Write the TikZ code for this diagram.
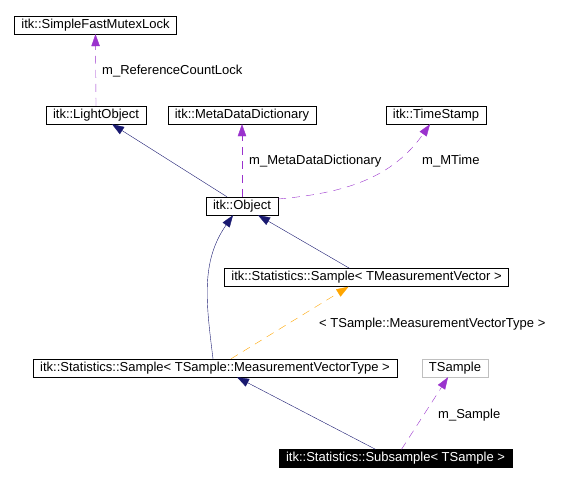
\documentclass[tikz,border=0pt]{standalone}
\usepackage{fontspec}
\setmainfont{Liberation Sans}
\usetikzlibrary{arrows.meta}
\begin{document}
\begin{tikzpicture}[x=1pt,y=-1pt,
  cls/.style={draw,thin,inner xsep=7pt,inner ysep=0pt,minimum height=18pt},
  inherit/.style={mynavy,thin,-{Triangle[length=12pt,width=8.5pt]}},
  member/.style={mypurple,thin,dash pattern=on 8pt off 6pt,-{Triangle[length=12pt,width=8.5pt]}},
  tmpl/.style={myorange,thin,dash pattern=on 8pt off 6pt,-{Triangle[length=12pt,width=8.5pt]}},
  lbl/.style={anchor=west,inner sep=0pt}]

\fontsize{13}{15}\selectfont
\definecolor{mynavy}{rgb}{0.098,0.098,0.439}
\definecolor{mypurple}{rgb}{0.604,0.196,0.804}
\definecolor{myorange}{rgb}{1.0,0.647,0.0}
\definecolor{mygray}{gray}{0.75}

\useasboundingbox (0,0) rectangle (564,483);

% classes
\node[cls] (lock) at (95.5,25) {itk::SimpleFastMutexLock};
\node[cls] (light) at (96,115) {itk::LightObject};
\node[cls] (meta) at (242,115) {itk::MetaDataDictionary};
\node[cls] (stamp) at (436,115) {itk::TimeStamp};
\node[cls] (object) at (242,206) {itk::Object};
\node[cls] (sampleT) at (366.5,277.5) {itk::Statistics::Sample< TMeasurementVector >};
\node[cls] (sampleM) at (215,368) {itk::Statistics::Sample< TSample::MeasurementVectorType >};
\node[cls,draw=mygray] (tsample) at (455,368) {TSample};
\node[cls,fill=black,text=white] (sub) at (395.5,458.5) {itk::Statistics::Subsample< TSample >};

% edge labels
\node[lbl] (lbllock) at (102,71) {m\_ReferenceCountLock};
\node[lbl] (lblmeta) at (249,161) {m\_MetaDataDictionary};
\node[lbl] (lbltime) at (422,161) {m\_MTime};
\node[lbl] (lblvec) at (319,324) {< TSample::MeasurementVectorType >};
\node[lbl] (lblsample) at (438,415) {m\_Sample};

% connectors
\draw[member] (light.north) -- (lock.south);
\draw[inherit] ([xshift=-15pt]object.north) -- ([xshift=16pt]light.south);
\draw[member] (object.north) -- (meta.south);
\draw[member] ([yshift=7pt]object.east) to[out=5,in=235] ([xshift=-6pt]stamp.south);
\draw[inherit] ([xshift=-17pt]sampleT.north) -- ([xshift=16pt]object.south);
\draw[inherit] ([xshift=-2pt]sampleM.north) to[out=97,in=235] ([xshift=-9pt]object.south);
\draw[tmpl] ([xshift=16pt]sampleM.north) -- ([xshift=-18pt]sampleT.south);
\draw[inherit] ([xshift=-20pt]sub.north) -- ([xshift=22pt]sampleM.south);
\draw[member] ([xshift=6pt]sub.north) -- ([xshift=-7pt]tsample.south);
\end{tikzpicture}
\end{document}
